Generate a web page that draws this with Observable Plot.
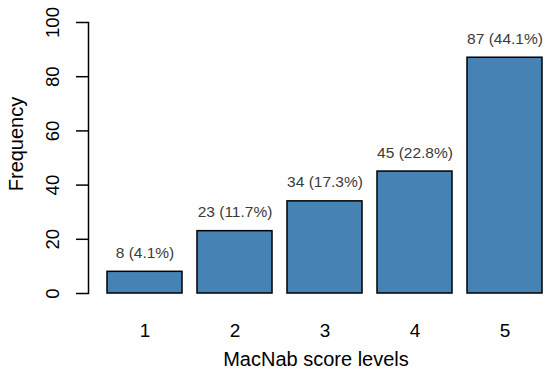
<!DOCTYPE html>
<html>
<head>
<meta charset="utf-8">
<script src="https://cdn.jsdelivr.net/npm/d3@7"></script>
<script src="https://cdn.jsdelivr.net/npm/@observablehq/plot@0.6"></script>
<style>
  html, body { margin: 0; padding: 0; background: #fff; }
  #chart { width: 550px; height: 380px; }
  svg { font-family: "Liberation Sans", Arial, sans-serif; }
</style>
</head>
<body>
<div id="chart"></div>
<script>
const levels = ["1", "2", "3", "4", "5"];
const counts = [8, 23, 34, 45, 87];
const percents = [4.1, 11.7, 17.3, 22.8, 44.1];
const yTicks = [0, 20, 40, 60, 80, 100];
const xTitle = "MacNab score levels";
const yTitle = "Frequency";

const data = levels.map((l, i) => ({level: l, count: counts[i], pct: percents[i]}));

const chart = Plot.plot({
  width: 550,
  height: 380,
  marginLeft: 88,
  marginRight: 7,
  marginTop: 22,
  marginBottom: 87,
  style: {fontFamily: "Liberation Sans, Arial, sans-serif", background: "#fff"},
  x: {type: "band", domain: levels, paddingInner: 0.2 / 1.2, paddingOuter: 0, insetLeft: 18, label: null},
  y: {domain: [0, 100], label: null},
  marks: [
    Plot.barY(data, {x: "level", y: "count", fill: "#4682B4", stroke: "#000", strokeWidth: 1.5}),
    Plot.text(data, {x: "level", y: "count", text: d => `${d.count} (${d.pct}%)`, dy: -19, fontSize: 15.5, fill: "#3a3a3a"}),
    Plot.frame({anchor: "left", stroke: "#000", strokeWidth: 1.5}),
    Plot.axisY({ticks: yTicks, tickSize: 12, tickFormat: () => "", stroke: "#000", strokeWidth: 1.5, label: null}),
    Plot.text(yTicks, {y: d => d, text: d => String(d), frameAnchor: "left", textAnchor: "middle", dx: -35, rotate: -90, fontSize: 18.5, fill: "#000"}),
    Plot.axisX({tickSize: 0, tickPadding: 30, fontSize: 19, label: null, fill: "#000"}),
    Plot.text([xTitle], {frameAnchor: "bottom", dy: 72, text: d => d, fontSize: 20, fill: "#000"}),
    Plot.text([yTitle], {frameAnchor: "left", textAnchor: "middle", dx: -72, dy: -14, rotate: -90, text: d => d, fontSize: 20, fill: "#000"})
  ]
});
document.getElementById("chart").appendChild(chart);
</script>
</body>
</html>
